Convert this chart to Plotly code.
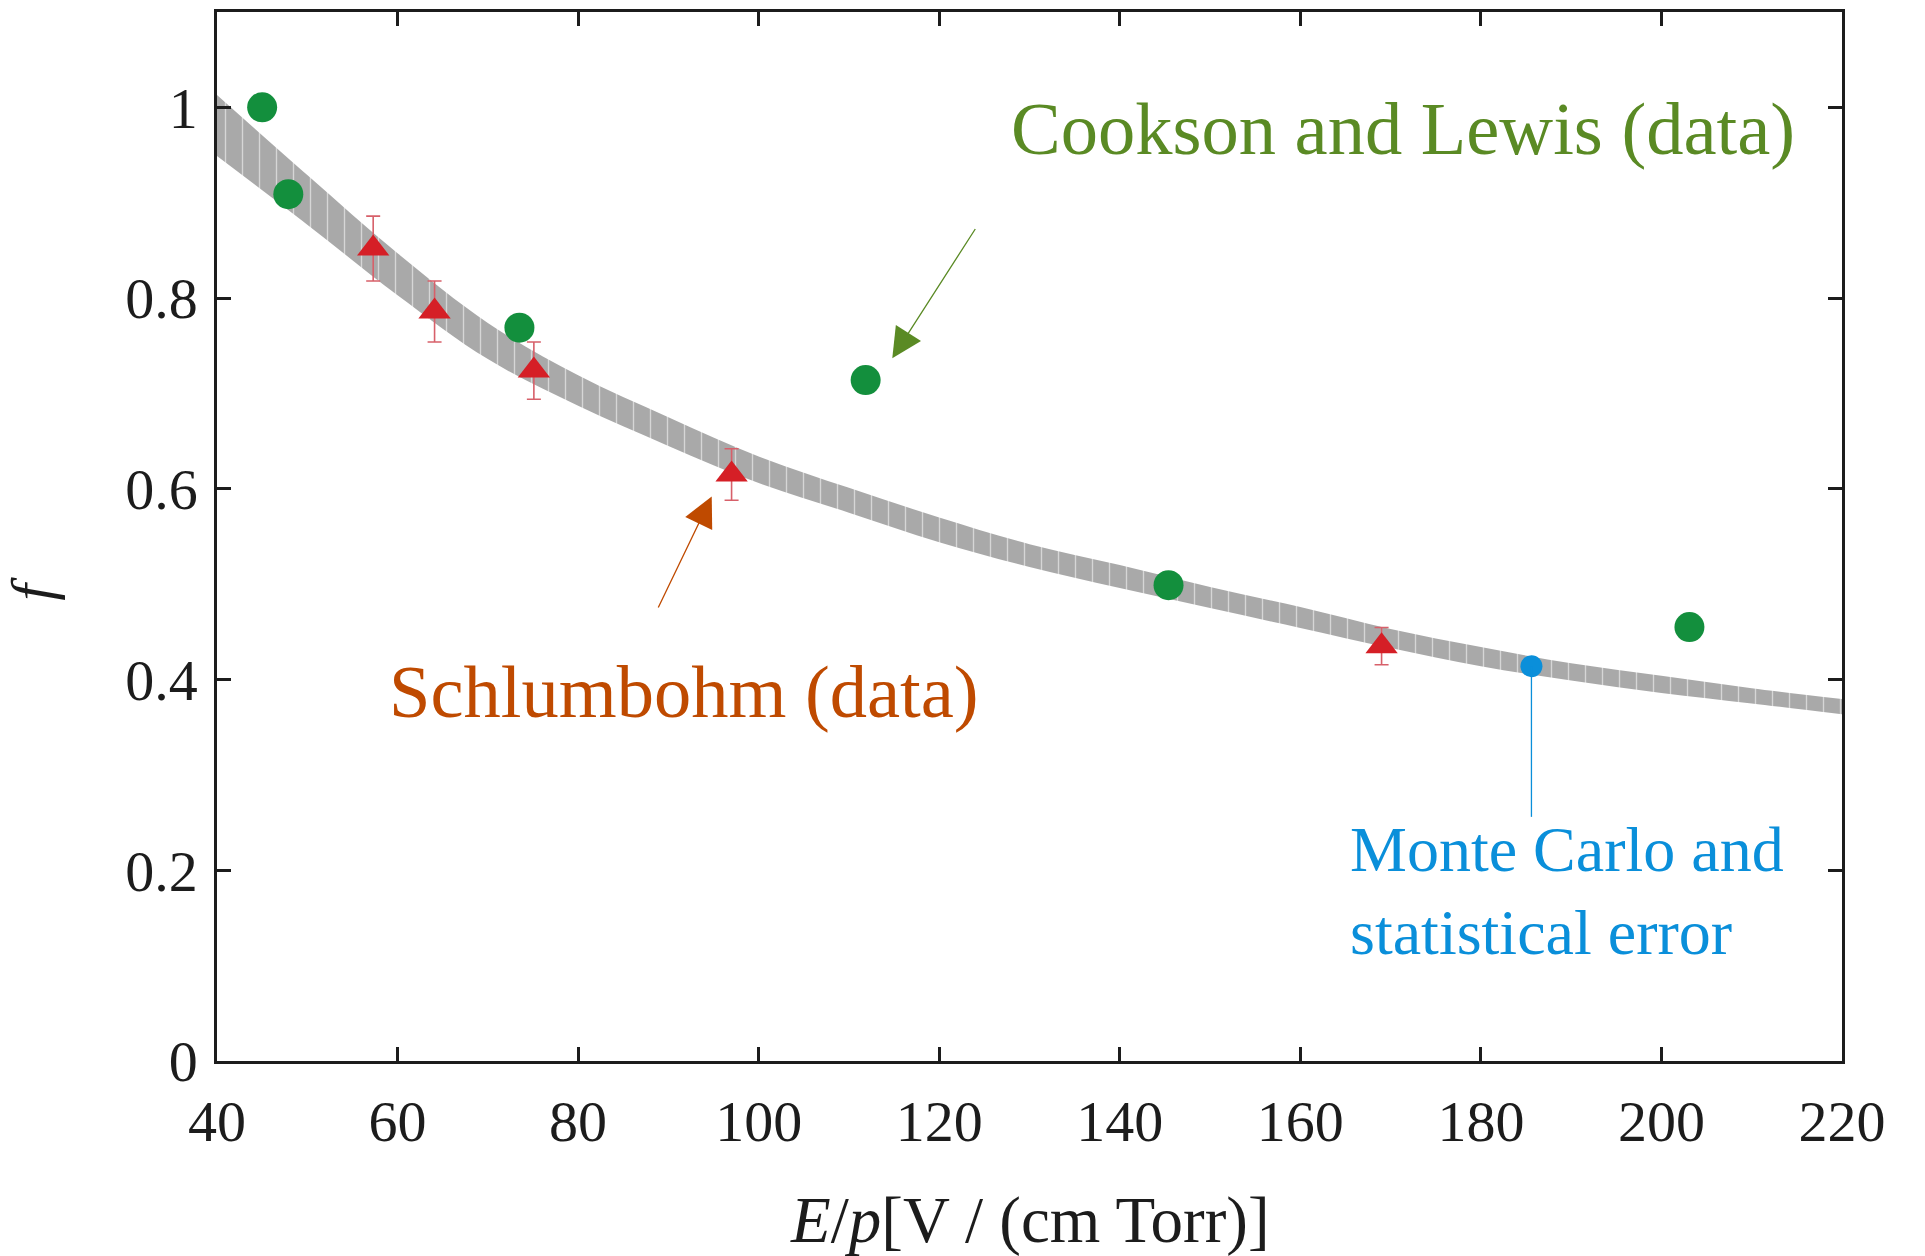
import plotly.graph_objects as go

# Monte Carlo result: band centre and statistical half-width
mc_x = [40, 50, 60, 70, 80, 90, 100, 110, 120, 130, 140, 150, 160, 170, 180, 190, 200, 210, 220]
mc_f = [0.981, 0.903, 0.825, 0.755, 0.703, 0.660, 0.620, 0.588, 0.557, 0.530, 0.508, 0.486,
        0.465, 0.443, 0.424, 0.408, 0.395, 0.383, 0.3715]
mc_err = [0.032, 0.026, 0.022, 0.019, 0.016, 0.015, 0.014, 0.013, 0.013, 0.012, 0.012, 0.011,
          0.011, 0.010, 0.010, 0.009, 0.009, 0.008, 0.008]

# Schlumbohm measurements
schl_x = [57.3, 64.1, 75.1, 97.0, 169.0]
schl_f = [0.852, 0.786, 0.724, 0.615, 0.435]
schl_err = [0.034, 0.032, 0.030, 0.027, 0.0195]

# Cookson and Lewis measurements
cl_x = [45.0, 47.9, 73.5, 111.85, 145.4, 203.1]
cl_f = [1.000, 0.909, 0.769, 0.714, 0.499, 0.455]

# highlighted Monte Carlo point and its label leader
mc_pt_x = [185.6]
mc_pt_f = [0.414]
mc_leader_end = 0.256

x_ticks = [40, 60, 80, 100, 120, 140, 160, 180, 200, 220]
y_ticks = [0, 0.2, 0.4, 0.6, 0.8, 1.0]

SERIF = "Liberation Serif, Times New Roman, Times, serif"
INK = "#1c1c1c"
GREEN = "#138f3d"
RED = "#d51f26"
ERR_RED = "#d7606a"
BLUE = "#0a8fda"
OLIVE = "#5a8a24"
ORANGE = "#bf4a00"
BAND = "#a9a9a9"

lower = [m - e for m, e in zip(mc_f, mc_err)]
upper = [m + e for m, e in zip(mc_f, mc_err)]

fig = go.Figure()

fig.add_trace(go.Scatter(
    x=mc_x, y=lower, mode="lines", line=dict(width=0, shape="spline", color=BAND),
    showlegend=False, hoverinfo="skip"))
fig.add_trace(go.Scatter(
    x=mc_x, y=upper, mode="lines", line=dict(width=0, shape="spline", color=BAND),
    fill="tonexty", fillcolor=BAND,
    fillpattern=dict(shape="|", bgcolor=BAND, fgcolor="#d6d6d6", size=17,
                     solidity=0.08, fillmode="replace"),
    showlegend=False, hoverinfo="skip"))

fig.add_trace(go.Scatter(
    x=schl_x, y=schl_f, mode="markers",
    marker=dict(symbol="triangle-up", size=28, color=RED, line=dict(width=0)),
    error_y=dict(type="data", array=schl_err, visible=True, color=ERR_RED,
                 thickness=1.6, width=7),
    showlegend=False))

fig.add_trace(go.Scatter(
    x=cl_x, y=cl_f, mode="markers",
    marker=dict(symbol="circle", size=30, color=GREEN, line=dict(width=0)),
    showlegend=False))

fig.add_shape(type="line", xref="x", yref="y",
              x0=mc_pt_x[0], x1=mc_pt_x[0], y0=mc_pt_f[0], y1=mc_leader_end,
              line=dict(color=BLUE, width=1.3))

fig.add_trace(go.Scatter(
    x=mc_pt_x, y=mc_pt_f, mode="markers",
    marker=dict(symbol="circle", size=22, color=BLUE, line=dict(width=0)),
    showlegend=False))

# labels and pointers
fig.add_annotation(x=127.7, y=0.977, xref="x", yref="y", text="Cookson and Lewis (data)",
                   showarrow=False, xanchor="left", yanchor="middle",
                   font=dict(family=SERIF, size=74.5, color=OLIVE))
fig.add_annotation(x=114.8, y=0.737, ax=124.1, ay=0.874, xref="x", yref="y",
                   axref="x", ayref="y", text="", showarrow=True,
                   arrowhead=2, arrowsize=4.6, arrowwidth=1.3, arrowcolor=OLIVE)

fig.add_annotation(x=58.8, y=0.387, xref="x", yref="y", text="Schlumbohm (data)",
                   showarrow=False, xanchor="left", yanchor="middle",
                   font=dict(family=SERIF, size=74.5, color=ORANGE))
fig.add_annotation(x=94.8, y=0.592, ax=88.8, ay=0.474, xref="x", yref="y",
                   axref="x", ayref="y", text="", showarrow=True,
                   arrowhead=2, arrowsize=4.6, arrowwidth=1.3, arrowcolor=ORANGE)

fig.add_annotation(x=165.3, y=0.178, xref="x", yref="y",
                   text="Monte Carlo and<br>statistical error",
                   showarrow=False, xanchor="left", yanchor="middle", align="left",
                   font=dict(family=SERIF, size=64, color=BLUE))

# axis titles
fig.add_annotation(x=0.5, y=-0.152, xref="paper", yref="paper",
                   text="<i>E</i>/<i>p</i>[V / (cm Torr)]", showarrow=False,
                   xanchor="center", yanchor="middle",
                   font=dict(family=SERIF, size=65, color=INK))
fig.add_annotation(x=-0.114, y=0.45, xref="paper", yref="paper",
                   text="<i>f</i>", showarrow=False, textangle=-90,
                   xanchor="center", yanchor="middle",
                   font=dict(family=SERIF, size=60, color=INK))

axis_common = dict(
    showgrid=False, zeroline=False, showline=True, linecolor=INK, linewidth=2.5,
    mirror="ticks", ticks="inside", ticklen=14, tickwidth=2.5, tickcolor=INK,
    tickfont=dict(family=SERIF, size=58, color=INK),
)

fig.update_xaxes(range=[40, 220], tickvals=x_ticks, ticktext=[str(v) for v in x_ticks],
                 ticklabelstandoff=8, **axis_common)
fig.update_yaxes(range=[0, 1.1], tickvals=y_ticks,
                 ticktext=["0", "0.2", "0.4", "0.6", "0.8", "1"],
                 ticklabelstandoff=5, **axis_common)

fig.update_layout(
    width=1925, height=1256,
    margin=dict(l=217, r=83, t=9, b=195),
    plot_bgcolor="white", paper_bgcolor="white",
    showlegend=False,
)

fig.write_html("out.html")
